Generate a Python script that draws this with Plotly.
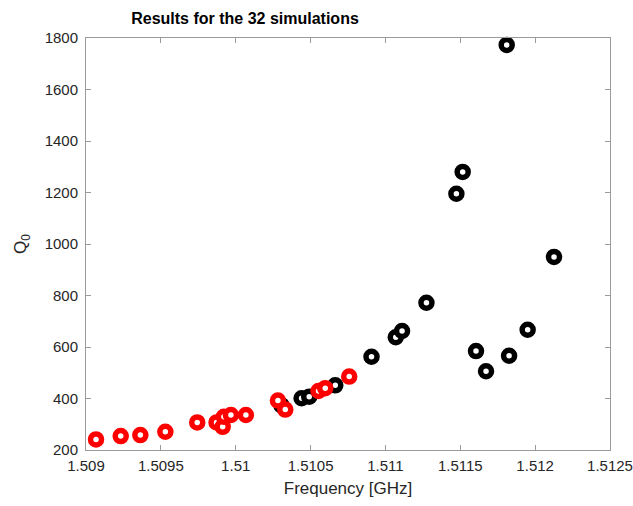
import plotly.graph_objects as go

# Simulated resonances: frequency [GHz] and unloaded quality factor Q0
red_freq = [1.509067, 1.509232, 1.509363, 1.509530, 1.509743, 1.509872, 1.509913,
            1.509921, 1.509968, 1.510068, 1.510282, 1.510331, 1.510553, 1.510598,
            1.510758]
red_q0 = [241, 254, 258, 271, 307, 307, 290, 329, 336, 336, 392, 357, 429, 440, 485]

black_freq = [1.510306, 1.510440, 1.510491, 1.510665, 1.510907, 1.511069, 1.511111,
              1.511274, 1.511474, 1.511516, 1.511605, 1.511672, 1.511826, 1.511950,
              1.512126, 1.511810]
black_q0 = [373, 401, 407, 451, 562, 638, 662, 772, 1195, 1280, 584, 506, 566, 667,
            950, 1773]

x_ticks = [1.509, 1.5095, 1.51, 1.5105, 1.511, 1.5115, 1.512, 1.5125]
x_tick_labels = ["1.509", "1.5095", "1.51", "1.5105", "1.511", "1.5115", "1.512", "1.5125"]
y_ticks = [200, 400, 600, 800, 1000, 1200, 1400, 1600, 1800]

FONT = "Liberation Sans, Arial, sans-serif"
ring = dict(symbol="circle", size=11, color="white")

fig = go.Figure()
fig.add_trace(go.Scatter(
    x=black_freq, y=black_q0, mode="markers",
    marker=dict(**ring, line=dict(color="black", width=5.5)),
    showlegend=False, cliponaxis=False,
))
fig.add_trace(go.Scatter(
    x=red_freq, y=red_q0, mode="markers",
    marker=dict(**ring, line=dict(color="#ff0000", width=5.5)),
    showlegend=False, cliponaxis=False,
))

axis_common = dict(
    showline=True, linecolor="#9a9a9a", linewidth=1, mirror="ticks",
    ticks="inside", ticklen=5, tickcolor="#9a9a9a", showgrid=False,
    zeroline=False, automargin=False,
    tickfont=dict(family=FONT, size=15, color="#262626"),
)

fig.update_layout(
    width=633, height=506,
    margin=dict(l=86, r=23, t=38, b=56),
    paper_bgcolor="white", plot_bgcolor="white",
    title=dict(
        text="<b>Results for the 32 simulations</b>",
        font=dict(family=FONT, size=16, color="black"),
        x=245 / 633, xref="container", xanchor="center",
        y=1 - 18 / 506, yref="container", yanchor="middle",
    ),
    xaxis=dict(
        **axis_common, range=[1.509, 1.5125],
        tickvals=x_ticks, ticktext=x_tick_labels, ticklabelstandoff=2,
        title=dict(text="Frequency [GHz]", standoff=9,
                   font=dict(family=FONT, size=17, color="#262626")),
    ),
    yaxis=dict(
        **axis_common, range=[200, 1800], tickvals=y_ticks, ticklabelstandoff=4,
        title=dict(text="Q<sub>0</sub>", standoff=13,
                   font=dict(family=FONT, size=17, color="#262626")),
    ),
)

fig.write_html("out.html")
